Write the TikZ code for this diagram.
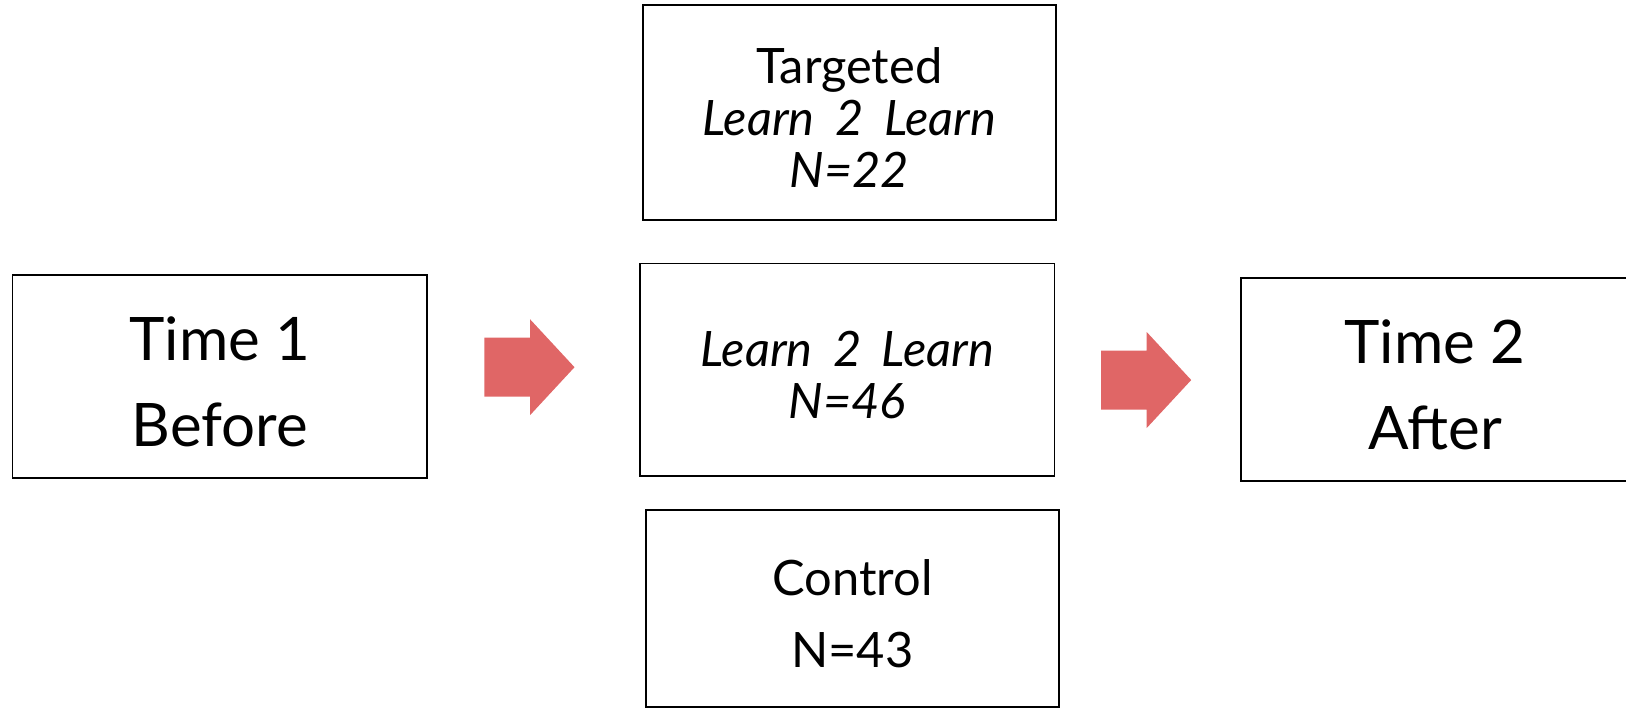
\documentclass[tikz,border=0pt]{standalone}
\usepackage{fontspec}
\setmainfont{Lato}[ItalicFeatures={WordSpace=1.8}]
\usepackage{tikz}
\usetikzlibrary{positioning}
\definecolor{arrowred}{HTML}{E06666}

\tikzset{
  box/.style={draw, line width=0.75pt, inner sep=0pt},
  boxtext/.style={align=center, inner sep=0pt, yshift=-2.5pt},
  bigtext/.style={boxtext, font=\fontsize{30}{43}\selectfont},
  smalltext/.style={boxtext, font=\fontsize{24.4}{26}\selectfont},
}

\begin{document}
\begin{tikzpicture}[x=0.5pt, y=-0.5pt]
            \useasboundingbox (0,0) rectangle (1626,709);
            % boxes
            \node[box, minimum width=207.4pt, minimum height=101.6pt] (time1) at (219.8,376.4) {};
            \node[box, minimum width=206.4pt, minimum height=107.3pt] (targeted) at (849.4,112.5) {};
            \node[box, minimum width=207.4pt, minimum height=106.3pt] (learn) at (847.2,369.7) {};
            \node[box, minimum width=206.4pt, minimum height=98.5pt] (control) at (852.4,608.7) {};
            \node[box, minimum width=194pt, minimum height=101.6pt] (time2) at (1435,379.5) {};
            % texts
            \node[bigtext] (time1txt) at (time1) {Time 1\\Before};
            \node[smalltext] (targetedtxt) at (targeted) {Targeted\\\textit{Learn 2 Learn}\\\textit{N=22}};
            \node[smalltext] (learntxt) at (learn) {\textit{Learn 2 Learn}\\\textit{N=46}};
            \node[smalltext, font=\fontsize{24.4}{36}\selectfont] (controltxt) at (control) {Control\\N=43};
            \node[bigtext] (time2txt) at (time2) {Time 2\\After};
            % block arrows
            \coordinate (a1) at (484.3,367.2);
            \coordinate (a2) at (1101,380);
            \fill[arrowred] (a1) ++(0,-29.5) -- ++(45.7,0) -- ++(0,-18.5) -- ++(44.5,48) -- ++(-44.5,48) -- ++(0,-18.5) -- ++(-45.7,0) -- cycle;
            \fill[arrowred] (a2) ++(0,-29.5) -- ++(45.7,0) -- ++(0,-18.5) -- ++(44.5,48) -- ++(-44.5,48) -- ++(0,-18.5) -- ++(-45.7,0) -- cycle;
        \end{tikzpicture}
\end{document}
